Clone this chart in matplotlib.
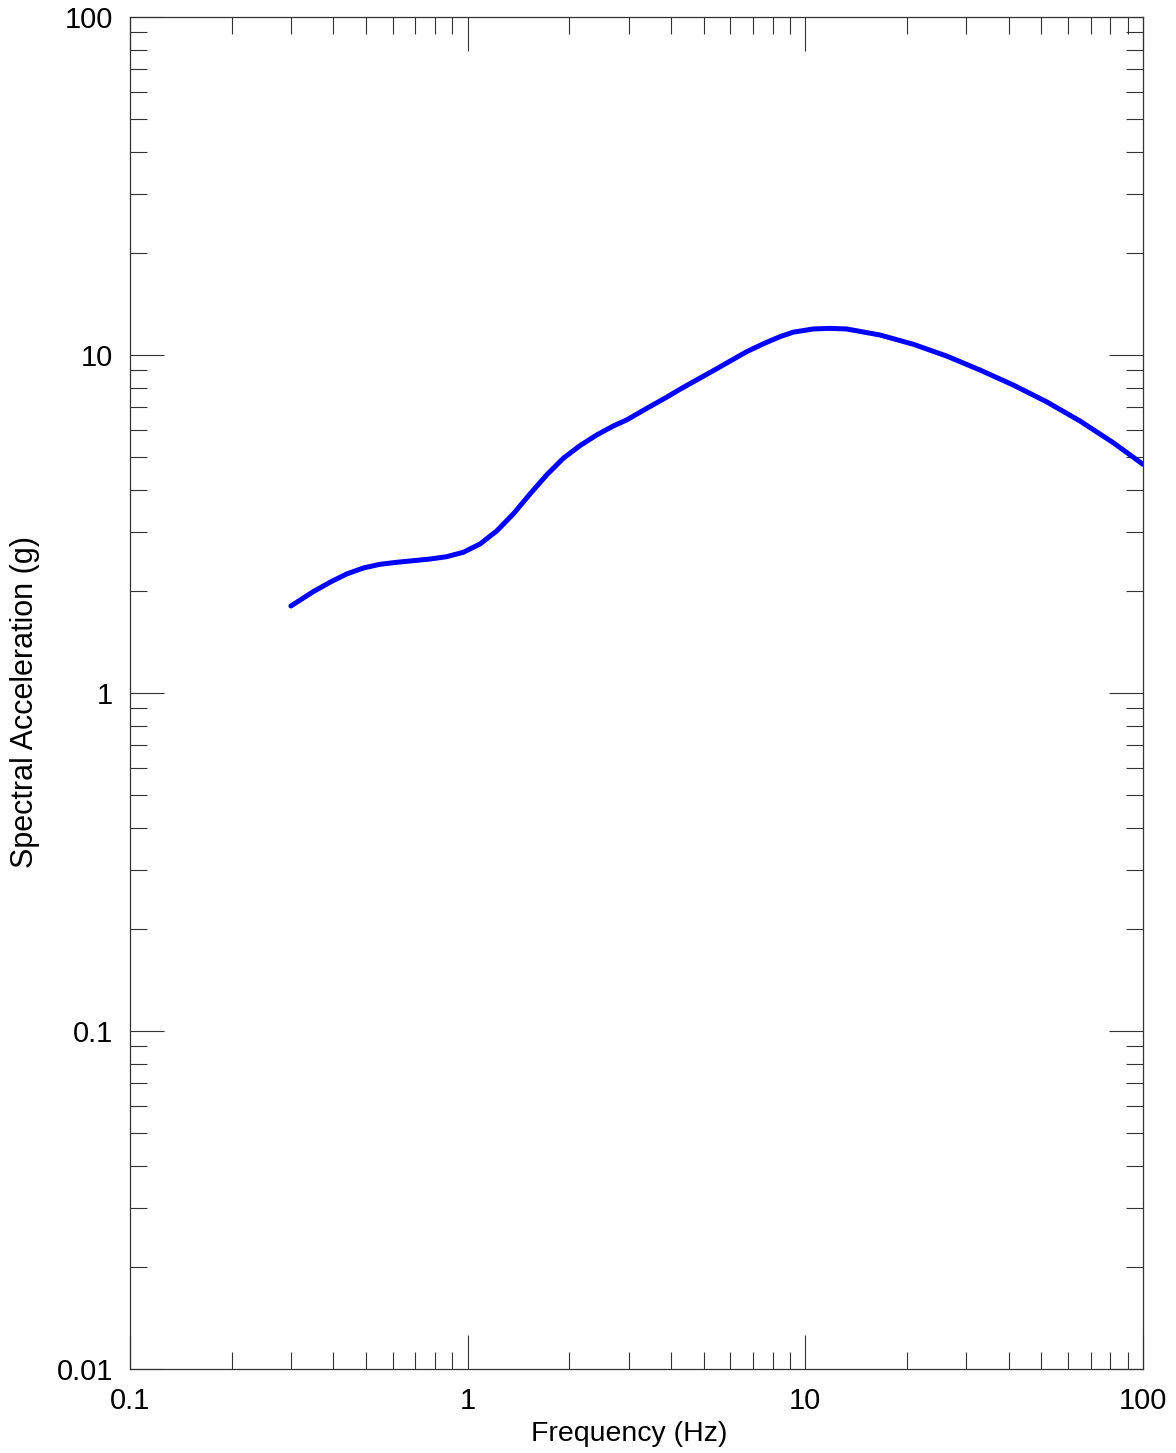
import numpy as np
import matplotlib.pyplot as plt
from matplotlib.ticker import LogLocator, FixedFormatter, FixedLocator, NullFormatter

# spectrum values (Hz, g)
freq = [0.2997, 0.3489, 0.3911, 0.4384, 0.4908, 0.5500, 0.6163, 0.6902, 0.7735,
        0.8669, 0.9707, 1.088, 1.219, 1.365, 1.530, 1.714, 1.920, 2.151, 2.411,
        2.700, 2.958, 3.400, 3.894, 4.254, 5.340, 6.706, 7.600, 8.414, 9.200,
        10.56, 11.83, 13.26, 16.64, 20.88, 26.22, 32.91, 41.30, 51.85, 65.07,
        81.68, 100.0]
accel = [1.809, 1.994, 2.126, 2.250, 2.343, 2.403, 2.436, 2.463, 2.491,
         2.531, 2.608, 2.759, 3.015, 3.385, 3.880, 4.416, 4.948, 5.392, 5.799,
         6.166, 6.424, 6.960, 7.511, 7.916, 8.987, 10.23, 10.85, 11.33, 11.68,
         11.94, 11.99, 11.94, 11.46, 10.76, 9.93, 9.03, 8.15, 7.27, 6.38,
         5.502, 4.750]

x_ticks = [0.1, 1, 10, 100]
x_labels = ["0.1", "1", "10", "100"]
y_ticks = [0.01, 0.1, 1, 10, 100]
y_labels = ["0.01", "0.1", "1", "10", "100"]


def main():
    plt.rcParams['font.family'] = ['Liberation Sans', 'DejaVu Sans']
    fig = plt.figure(figsize=(11.76, 14.53), dpi=100)
    ax = fig.add_axes([0.1105, 0.0578, 0.8614, 0.9305])

    ax.plot(freq, accel, color="#0000ff", linewidth=3.6, solid_capstyle="round",
            solid_joinstyle="round")

    ax.set_xscale("log")
    ax.set_yscale("log")
    ax.set_xlim(0.1, 100)
    ax.set_ylim(0.01, 100)

    ax.xaxis.set_major_locator(FixedLocator(x_ticks))
    ax.xaxis.set_major_formatter(FixedFormatter(x_labels))
    ax.yaxis.set_major_locator(FixedLocator(y_ticks))
    ax.yaxis.set_major_formatter(FixedFormatter(y_labels))
    ax.xaxis.set_minor_locator(LogLocator(base=10, subs=np.arange(2, 10), numticks=20))
    ax.yaxis.set_minor_locator(LogLocator(base=10, subs=np.arange(2, 10), numticks=20))
    ax.xaxis.set_minor_formatter(NullFormatter())
    ax.yaxis.set_minor_formatter(NullFormatter())

    # ticks inside on every side, like the old plotting package
    ax.tick_params(which="both", direction="in", top=True, right=True,
                   color="#333333", width=0.8)
    ax.tick_params(which="major", length=24.5)
    ax.tick_params(which="minor", length=12)
    ax.tick_params(axis="x", which="major", labelsize=21, pad=13)
    ax.tick_params(axis="y", which="major", labelsize=21, pad=12)

    for s in ax.spines.values():
        s.set_linewidth(0.9)
        s.set_color("#333333")

    ax.set_xlabel("Frequency (Hz)", fontsize=20.5, labelpad=4, x=0.493)
    ax.set_ylabel("Spectral Acceleration (g)", fontsize=22, labelpad=12, y=0.493)

    fig.savefig("out.png", dpi=100, facecolor="white")


if __name__ == "__main__":
    main()
